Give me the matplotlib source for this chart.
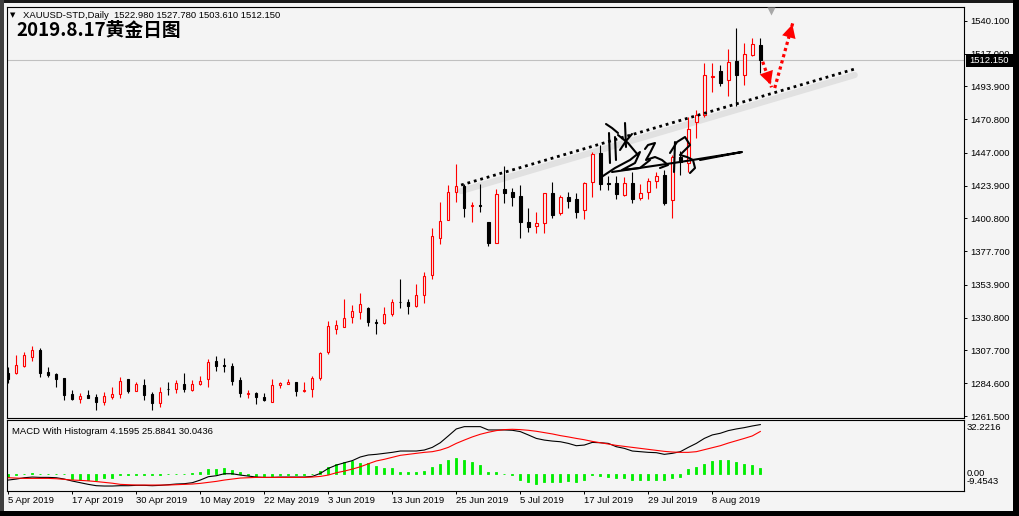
import matplotlib
matplotlib.use("Agg")
import matplotlib.pyplot as plt
from matplotlib.patches import Rectangle, FancyArrowPatch
from matplotlib import transforms

plt.rcParams['font.family'] = ['Liberation Sans', 'DejaVu Sans']

# ---- 数据----
opens = [1292.0, 1292.0, 1297.0, 1303.3, 1308.0, 1292.7, 1291.1, 1288.0, 1277.0, 1273.3,
         1276.3, 1274.6, 1271.6, 1275.1, 1277.0, 1287.3, 1279.4, 1283.3, 1277.0, 1270.4,
         1280.7, 1280.3, 1284.1, 1279.8, 1283.8, 1287.3, 1300.3, 1297.2, 1296.7, 1286.9,
         1277.0, 1277.9, 1274.6, 1271.1, 1283.3, 1284.1, 1285.2, 1279.4, 1280.3, 1288.0,
         1306.8, 1322.6, 1324.4, 1331.0, 1335.0, 1337.5, 1327.6, 1326.8, 1333.1, 1342.2,
         1341.6, 1339.3, 1346.8, 1360.9, 1387.2, 1399.6, 1419.1, 1423.6, 1409.5, 1410.0,
         1398.0, 1383.7, 1421.2, 1419.1, 1416.5, 1398.0, 1395.6, 1397.3, 1418.4, 1404.3,
         1415.6, 1414.2, 1406.7, 1426.7, 1446.6, 1425.6, 1425.9, 1417.3, 1425.9, 1414.9,
         1419.4, 1427.1, 1431.4, 1413.7, 1444.0, 1439.6, 1469.0, 1473.7, 1500.5, 1504.7,
         1498.3, 1511.7, 1501.8, 1515.9, 1522.98]
highs = [1296.0, 1304.5, 1306.8, 1311.1, 1309.2, 1295.8, 1292.0, 1288.5, 1279.8, 1277.9,
         1279.8, 1277.0, 1278.2, 1282.2, 1289.2, 1287.3, 1285.7, 1287.3, 1278.7, 1282.2,
         1285.7, 1286.9, 1291.6, 1286.9, 1289.7, 1301.4, 1303.8, 1302.1, 1298.6, 1288.7,
         1279.8, 1278.7, 1277.5, 1287.3, 1285.7, 1287.3, 1285.7, 1285.7, 1289.7, 1306.8,
         1328.4, 1329.2, 1343.7, 1339.7, 1347.9, 1338.5, 1329.6, 1338.5, 1343.7, 1358.0,
         1343.7, 1354.5, 1363.2, 1393.8, 1412.6, 1424.3, 1439.1, 1425.0, 1412.1, 1425.0,
         1398.5, 1421.3, 1437.7, 1422.0, 1424.3, 1407.9, 1405.5, 1418.9, 1426.7, 1417.3,
         1419.6, 1418.4, 1426.7, 1447.8, 1452.5, 1430.6, 1430.6, 1429.7, 1433.7, 1425.0,
         1429.6, 1433.7, 1434.9, 1445.5, 1448.0, 1472.5, 1477.2, 1510.1, 1510.1, 1508.9,
         1519.9, 1534.7, 1524.2, 1527.7, 1527.78]
lows = [1284.5, 1291.1, 1296.3, 1300.5, 1289.2, 1289.0, 1282.2, 1272.8, 1272.8, 1270.9,
        1274.0, 1265.7, 1269.3, 1273.3, 1274.0, 1278.0, 1279.4, 1272.8, 1265.7, 1268.1,
        1276.3, 1278.0, 1278.7, 1279.4, 1283.3, 1281.7, 1293.4, 1292.7, 1283.3, 1274.6,
        1274.0, 1270.0, 1272.1, 1271.1, 1281.0, 1284.0, 1275.8, 1278.7, 1274.6, 1286.9,
        1305.2, 1319.3, 1324.4, 1326.8, 1329.9, 1325.2, 1319.3, 1326.1, 1332.2, 1337.8,
        1333.1, 1338.5, 1341.4, 1358.0, 1382.5, 1399.6, 1412.1, 1401.5, 1398.5, 1405.5,
        1381.5, 1383.7, 1411.8, 1409.5, 1386.7, 1391.4, 1390.2, 1390.2, 1400.8, 1403.2,
        1407.9, 1400.8, 1400.1, 1416.0, 1420.8, 1420.8, 1414.2, 1416.6, 1411.4, 1413.7,
        1414.6, 1422.0, 1410.2, 1400.8, 1431.5, 1433.7, 1457.2, 1472.5, 1490.1, 1494.3,
        1487.3, 1480.0, 1494.8, 1515.2, 1503.61]
closes = [1287.5, 1297.4, 1304.5, 1308.0, 1292.0, 1290.4, 1287.6, 1276.3, 1273.5, 1275.6,
          1274.4, 1271.6, 1275.6, 1277.0, 1286.2, 1279.4, 1284.1, 1276.3, 1270.4, 1278.7,
          1280.3, 1284.5, 1280.3, 1284.1, 1286.2, 1299.8, 1297.0, 1296.8, 1286.4, 1277.5,
          1277.9, 1274.6, 1272.8, 1283.3, 1285.0, 1285.7, 1279.4, 1279.8, 1288.0, 1305.7,
          1324.9, 1325.6, 1330.3, 1335.5, 1340.4, 1328.0, 1327.2, 1333.4, 1341.6, 1341.8,
          1339.3, 1346.8, 1360.2, 1388.4, 1398.9, 1419.1, 1423.6, 1408.3, 1410.2, 1409.6,
          1383.7, 1418.0, 1418.4, 1415.6, 1398.5, 1394.9, 1397.3, 1418.4, 1403.2, 1415.6,
          1413.3, 1405.5, 1425.9, 1446.2, 1425.0, 1425.0, 1417.7, 1425.5, 1414.2, 1418.4,
          1427.0, 1430.6, 1411.4, 1444.3, 1440.6, 1463.6, 1473.7, 1501.8, 1501.0, 1496.4,
          1511.2, 1501.8, 1516.4, 1523.5, 1512.15]

macd_line = [-3.4, -2.8, -2.0, -1.6, -1.8, -1.8, -2.0, -2.8, -4.0, -5.0,
             -6.0, -6.8, -7.0, -7.0, -6.8, -6.8, -6.6, -6.6, -6.8, -6.6,
             -6.2, -5.8, -5.6, -5.0, -3.4, -1.4, -0.8, 0.4, 0.4, -0.4,
             -1.0, -1.6, -1.8, -1.8, -1.6, -1.6, -1.6, -1.6, -1.2, 0.6,
             3.6, 5.6, 7.0, 8.3, 10.5, 11.7, 12.1, 12.7, 13.3, 14.1,
             14.1, 14.1, 14.7, 16.3, 19.1, 23.2, 27.4, 28.8, 28.8, 28.8,
             26.8, 26.8, 26.8, 26.6, 25.8, 23.8, 21.7, 20.7, 20.1, 19.7,
             18.7, 17.3, 17.7, 19.3, 19.1, 18.7, 16.7, 15.7, 14.1, 13.7,
             13.3, 13.1, 12.1, 12.7, 13.7, 16.3, 18.7, 21.7, 23.8, 24.8,
             26.4, 27.4, 28.2, 29.2, 30.04]
signal_line = [-2.0, -2.2, -2.4, -2.4, -2.4, -2.4, -2.6, -3.0, -3.4, -3.6,
               -3.9, -4.3, -4.8, -5.3, -6.0, -6.2, -6.4, -6.4, -6.4, -6.4,
               -6.4, -6.2, -6.0, -5.8, -5.4, -4.8, -4.2, -3.4, -2.8, -2.2,
               -2.0, -1.8, -1.8, -1.8, -1.8, -1.8, -1.8, -1.8, -1.6, -1.2,
               -0.4, 1.0, 2.0, 3.2, 4.6, 6.4, 8.1, 9.1, 10.3, 11.5,
               12.1, 12.7, 13.3, 13.7, 14.7, 16.3, 18.7, 20.7, 22.6, 24.2,
               25.4, 26.4, 27.0, 27.2, 27.0, 26.6, 26.0, 25.2, 24.4, 23.4,
               22.6, 21.7, 20.9, 19.9, 19.1, 18.3, 17.5, 16.9, 16.3, 15.7,
               15.1, 14.5, 13.9, 13.5, 13.3, 13.3, 13.7, 14.9, 16.1, 17.3,
               18.9, 20.3, 21.7, 23.2, 25.88]
macd_hist = [-1.5, -0.6, 0.2, 0.6, 0.4, 0.5, 0.4, 0.2, -2.8, -3.4,
             -3.4, -3.4, -2.4, -2.0, -0.6, -0.4, -0.2, -0.2, -0.4, -0.2,
             0.2, 0.4, 0.4, 0.6, 1.4, 3.2, 3.0, 4.0, 2.6, 1.2,
             -0.6, -1.2, -1.2, -1.0, -0.6, -0.4, -0.4, -0.2, 0.4, 2.0,
             4.6, 6.0, 7.7, 8.1, 6.6, 7.0, 5.2, 4.0, 3.6, 1.6,
             1.6, 1.6, 2.0, 4.6, 6.0, 8.7, 10.1, 8.7, 7.7, 5.6,
             1.6, 1.2, 0.4, -0.4, -3.4, -4.4, -5.8, -4.4, -4.8, -4.4,
             -4.0, -4.4, -3.4, -0.4, -0.8, -1.4, -2.0, -2.4, -3.4, -3.4,
             -3.4, -3.4, -3.4, -2.4, -1.4, 3.0, 4.2, 6.0, 8.1, 8.5,
             8.7, 7.3, 6.0, 5.6, 4.16]

price_ticks = [1540.1, 1517.0, 1493.9, 1470.8, 1447.0, 1423.9, 1400.8,
               1377.7, 1353.9, 1330.8, 1307.7, 1284.6, 1261.5]
date_ticks = [0, 8, 16, 24, 32, 40, 48, 56, 64, 72, 80, 88]
date_labels = ['5 Apr 2019', '17 Apr 2019', '30 Apr 2019', '10 May 2019', '22 May 2019',
               '3 Jun 2019', '13 Jun 2019', '25 Jun 2019', '5 Jul 2019', '17 Jul 2019',
               '29 Jul 2019', '8 Aug 2019']
last_price = 1512.15

# 手绘趋势线和箭头（K线序号, 价格）
trend_x = [56.6, 105.8]
trend_y = [1424.3, 1506.1]
arrow_down = [(94.3, 1511.2), (95.4, 1493.2)]
arrow_up = [(95.8, 1492.7), (98.1, 1539.4)]

W, H = 1020, 516
BG = '#f4f4f4'
BULL = '#ff0000'
BEAR = '#000000'


def fx(x):
    return x / W


def fy(y):
    return 1 - y / H


fig = plt.figure(figsize=(W / 100, H / 100), dpi=100, facecolor=BG)
ax = fig.add_axes([fx(7), fy(418), (964 - 7) / W, (418 - 7) / H], facecolor=BG)
axm = fig.add_axes([fx(7), fy(491), (964 - 7) / W, (491 - 420) / H], facecolor=BG)

for a in (ax, axm):
    a.set_xlim(-0.16, 119.46)
    for s in a.spines.values():
        s.set_linewidth(0.8)
        s.set_color('black')

ax.set_ylim(1260.1, 1549.8)
axm.set_ylim(-10.0, 32.8)

# ---- K线 ----
bw = 0.3
for i in range(len(opens)):
    o, h, l, c = opens[i], highs[i], lows[i], closes[i]
    col = BULL if c >= o else BEAR
    ax.vlines(i, l, h, color=col, lw=0.8, zorder=3)
    fc = BG if c >= o else BEAR
    ax.add_patch(Rectangle((i - bw / 2, min(o, c)), bw, abs(c - o),
                           facecolor=fc, edgecolor=col, lw=0.8, zorder=4))

# 当前价横线
ax.axhline(last_price, color='#c0c0c0', lw=0.8, zorder=1)

# 趋势线 + 阴影
shadow = transforms.offset_copy(ax.transData, fig=fig, x=0, y=-6, units='dots')
ax.plot(trend_x, trend_y, color='#e1e1e1', lw=4.5, transform=shadow, zorder=1,
        solid_capstyle='round')
ax.plot(trend_x, trend_y, color='black', lw=2.0, linestyle=(0, (1, 1.4)),
        dash_capstyle='butt', zorder=6)

# 红色虚线箭头
for (p0, p1) in (arrow_down, arrow_up):
    ax.plot([p0[0], p1[0]], [p0[1], p1[1]], color=BULL, lw=2.3,
            linestyle=(0, (1, 1.0)), dash_capstyle='butt', zorder=7)
    ax.add_patch(FancyArrowPatch(p0, p1, arrowstyle='-|>,head_length=0.95,head_width=0.5',
                                 mutation_scale=10, color=BULL, lw=0, zorder=8))

# 图表右移标记
ax.plot(95.3, 1547.3, marker='v', color='#a8a8a8', ms=6, mec='none', clip_on=False, zorder=8)

# 手写签名
strokes = [
    [(606, 124), (612, 128), (618, 133)],
    [(625, 123), (626, 147)],
    [(609, 133), (610, 163)],
    [(615, 137), (616, 160)],
    [(618, 135), (628, 143), (638, 155)],
    [(632, 134), (626, 141), (620, 150)],
    [(600, 178), (615, 168), (630, 160), (640, 152), (635, 163), (622, 170), (640, 168), (650, 160)],
    [(645, 149), (648, 145), (655, 143), (650, 153), (646, 160), (655, 157), (662, 160), (668, 165), (660, 168)],
    [(670, 153), (677, 142), (685, 137), (690, 145), (680, 155), (687, 157), (693, 160), (695, 168), (690, 173)],
    [(675, 142), (674, 172)],
    [(612, 172), (680, 162), (742, 152), (700, 160)],
]
for st in strokes:
    xs = [fx(p[0]) for p in st]
    ys = [fy(p[1]) for p in st]
    fig.add_artist(plt.Line2D(xs, ys, color='black', lw=1.5, zorder=9,
                              solid_capstyle='round', solid_joinstyle='round'))

# ---- 价格轴 ----
ax.set_xticks([])
ax.yaxis.tick_right()
ax.set_yticks(price_ticks)
ax.set_yticklabels(['%.3f' % v for v in price_ticks])
ax.tick_params(axis='y', length=2.2, width=0.7, pad=2, labelsize=6.8, colors='black')

# 当前价标签
bt = transforms.blended_transform_factory(ax.transAxes, ax.transData)
ax.add_patch(Rectangle((1.002, last_price - 4.4), 0.05, 8.8, transform=bt,
                       facecolor='black', edgecolor='none', clip_on=False, zorder=10))
ax.text(1.006, last_price, '%.3f' % last_price, transform=bt, color='white',
        fontsize=6.8, va='center', ha='left', zorder=11, clip_on=False)

# ---- MACD ----
idx = list(range(len(macd_hist)))
axm.bar(idx, macd_hist, width=0.25, color='#00ee00', edgecolor='#00ee00', lw=0.6, zorder=2)
axm.plot(idx, macd_line, color='black', lw=0.8, zorder=3)
axm.plot(idx, signal_line, color='red', lw=0.8, zorder=3)
axm.set_yticks([])
axm.set_xticks(date_ticks)
axm.set_xticklabels(date_labels, ha='left')
axm.tick_params(axis='x', length=2, width=0.7, pad=1.5, labelsize=6.8, colors='black')

fig.text(fx(967), fy(428), '32.2216', fontsize=6.8, va='center')
fig.text(fx(967), fy(474), '0.00', fontsize=6.8, va='center')
fig.text(fx(967), fy(482), '-9.4543', fontsize=6.8, va='center')
fig.text(fx(12), fy(431), 'MACD With Histogram 4.1595 25.8841 30.0436', fontsize=6.8, va='center')

# ---- 标题 ----
fig.text(fx(10), fy(15), '▼', family=['DejaVu Sans'], fontsize=5, va='center')
fig.text(fx(23), fy(15), 'XAUUSD-STD,Daily  1522.980 1527.780 1503.610 1512.150',
         fontsize=6.8, va='center')
fig.text(fx(16), fy(31), '2019.8.17黄金日图', family=['Noto Sans CJK SC', 'DejaVu Sans'],
         fontsize=13.5, fontweight='bold', va='center')

# ---- 窗口边框 ----
for (x0, y0, w, h, c) in [(0, 0, 1020, 3, '#1a1a1a'), (0, 0, 4, 516, '#404040'),
                          (1013, 0, 7, 516, '#000000'), (0, 511, 1020, 5, '#000000')]:
    fig.add_artist(Rectangle((fx(x0), fy(y0 + h)), w / W, h / H, transform=fig.transFigure,
                             facecolor=c, edgecolor='none', zorder=20))

fig.savefig('out.png', dpi=100, facecolor=BG)
